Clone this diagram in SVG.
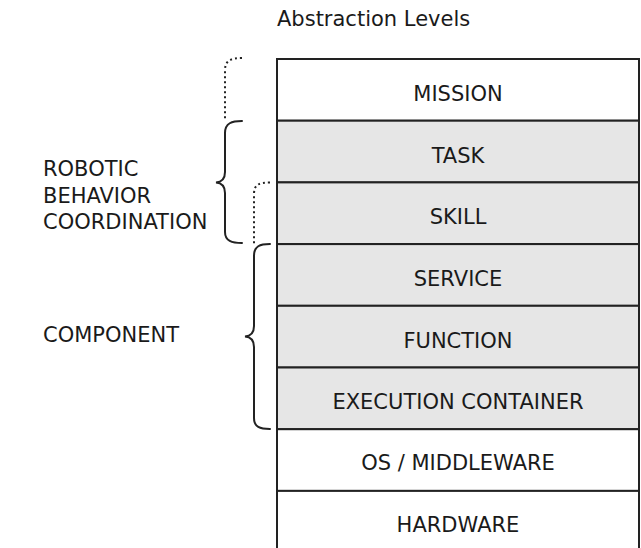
<svg xmlns="http://www.w3.org/2000/svg" width="641" height="548" viewBox="0 0 641 548">
  <style>
    text { font-family: "DejaVu Sans", "Noto Sans", sans-serif; font-size: 21px; fill: #1a1a1a; }
    .lvl text { text-anchor: middle; }
    .box { stroke: #222; stroke-width: 2; }
    .plain { fill: #ffffff; }
    .shaded { fill: #e6e6e6; }
    .brace { fill: none; stroke: #222; stroke-width: 2; stroke-linecap: round; }
    .dotted { stroke-dasharray: 2 3; stroke-linecap: butt; }
  </style>
  <rect width="641" height="548" fill="#ffffff"/>

  <text id="title" x="277" y="26" style="font-size:21px">Abstraction Levels</text>

  <!-- stack of abstraction levels -->
  <g class="lvl">
    <g id="mission"><rect class="box plain" x="277" y="59" width="362" height="61.7"/><text x="458" y="101">MISSION</text></g>
    <g id="task"><rect class="box shaded" x="277" y="120.7" width="362" height="61.7"/><text x="458" y="162.5">TASK</text></g>
    <g id="skill"><rect class="box shaded" x="277" y="182.4" width="362" height="61.7"/><text x="458" y="224">SKILL</text></g>
    <g id="service"><rect class="box shaded" x="277" y="244.1" width="362" height="61.7"/><text x="458" y="286">SERVICE</text></g>
    <g id="function"><rect class="box shaded" x="277" y="305.8" width="362" height="61.7"/><text x="458" y="347.5">FUNCTION</text></g>
    <g id="execution-container"><rect class="box shaded" x="277" y="367.5" width="362" height="61.7"/><text x="458" y="409.3">EXECUTION CONTAINER</text></g>
    <g id="os-middleware"><rect class="box plain" x="277" y="429.2" width="362" height="61.7"/><text x="458" y="470">OS / MIDDLEWARE</text></g>
    <g id="hardware"><rect class="box plain" x="277" y="490.9" width="362" height="70"/><text x="458" y="532">HARDWARE</text></g>
  </g>

  <!-- grouping braces -->
  <g id="braces">
    <path class="brace dotted" d="M242,58 C232,58 225,60 225,70 L225,121"/>
    <path class="brace" d="M242,121 C232,121 225,123 225,133 L225,172 C225,179 222,182 216,182.5 C222,183 225,186 225,193 L225,232 C225,241 232,243 242,243"/>
    <path class="brace dotted" d="M270,182.5 C260,182.5 254,184 254,194 L254,244"/>
    <path class="brace" d="M270,244 C260,244 254,246 254,256 L254,326 C254,333 251,336 245,336.5 C251,337 254,340 254,347 L254,418 C254,427 260,429 270,429"/>
  </g>

  <g id="behavior-label">
    <text x="43" y="176">ROBOTIC</text>
    <text x="43" y="203">BEHAVIOR</text>
    <text x="43" y="229">COORDINATION</text>
  </g>
  <g id="component-label">
    <text x="43" y="342">COMPONENT</text>
  </g>
</svg>
